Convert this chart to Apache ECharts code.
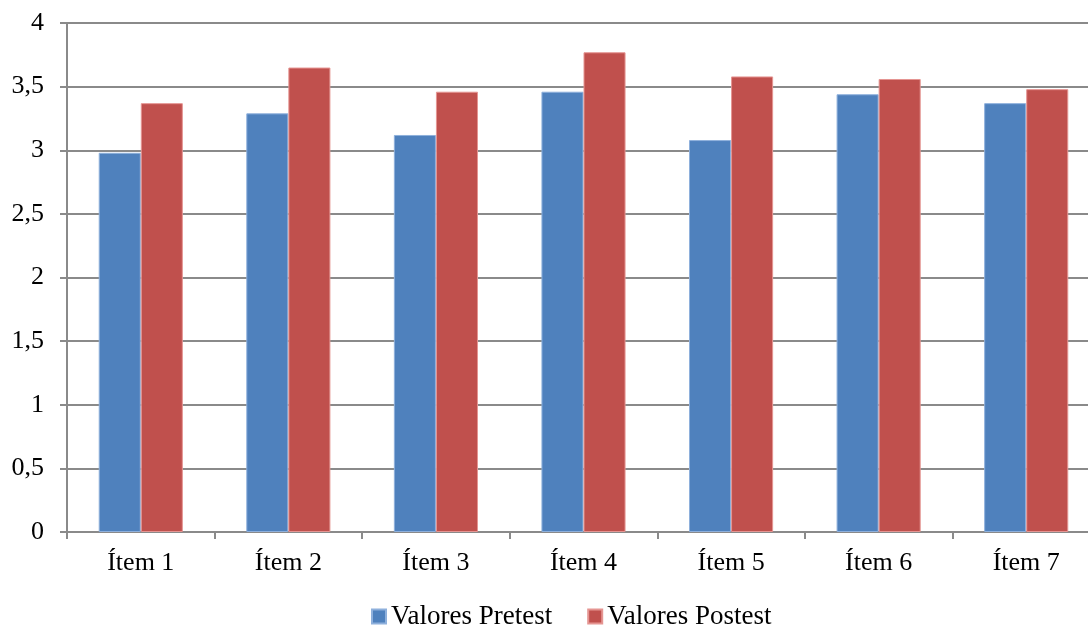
<!DOCTYPE html>
<html>
<head>
<meta charset="utf-8">
<script src="https://cdn.jsdelivr.net/npm/echarts@6/dist/echarts.min.js"></script>
<style>
  html, body { margin: 0; padding: 0; background: #fff; }
  #chart { width: 1088px; height: 625px; }
</style>
</head>
<body>
<div id="chart"></div>
<script>
// Mean scores per item, before and after
const categories = ['Ítem 1', 'Ítem 2', 'Ítem 3', 'Ítem 4', 'Ítem 5', 'Ítem 6', 'Ítem 7'];
const pretest = [2.98, 3.29, 3.12, 3.46, 3.08, 3.44, 3.37];
const postest = [3.37, 3.65, 3.46, 3.77, 3.58, 3.56, 3.48];
const seriesNames = ['Valores Pretest', 'Valores Postest'];

const font = 'Liberation Serif';
const axisGray = '#8a8a8a';

const chart = echarts.init(document.getElementById('chart'), null, { renderer: 'canvas' });
chart.setOption({
  animation: false,
  backgroundColor: '#ffffff',
  textStyle: { fontFamily: font },
  grid: { left: 67, top: 23, right: -12, bottom: 93, containLabel: false, outerBoundsMode: 'none' },
  legend: {
    data: seriesNames,
    top: 598,
    left: 366,
    itemWidth: 14,
    itemHeight: 14,
    itemGap: 35,
    icon: 'rect',
    textStyle: { fontFamily: font, fontSize: 27, color: '#000' }
  },
  xAxis: {
    type: 'category',
    data: categories,
    axisLine: { lineStyle: { color: axisGray, width: 2 } },
    axisTick: { show: true, length: 7, lineStyle: { color: axisGray, width: 2 } },
    axisLabel: { fontFamily: font, fontSize: 26, color: '#000', margin: 18 }
  },
  yAxis: {
    type: 'value',
    min: 0,
    max: 4,
    interval: 0.5,
    axisLine: { show: true, lineStyle: { color: axisGray, width: 2 } },
    axisTick: { show: true, length: 7, lineStyle: { color: axisGray, width: 2 } },
    splitLine: { lineStyle: { color: axisGray, width: 2 } },
    axisLabel: {
      fontFamily: font, fontSize: 26, color: '#000', margin: 23,
      formatter: v => String(v).replace('.', ',')
    }
  },
  series: [
    {
      name: seriesNames[0],
      type: 'bar',
      data: pretest,
      barGap: '0%',
      barCategoryGap: '43%',
      itemStyle: { color: '#4F81BD', borderColor: '#8eb0dc', borderWidth: 1 }
    },
    {
      name: seriesNames[1],
      type: 'bar',
      data: postest,
      barGap: '0%',
      barCategoryGap: '43%',
      itemStyle: { color: '#C0504D', borderColor: '#e59592', borderWidth: 1 }
    }
  ]
});
</script>
</body>
</html>
